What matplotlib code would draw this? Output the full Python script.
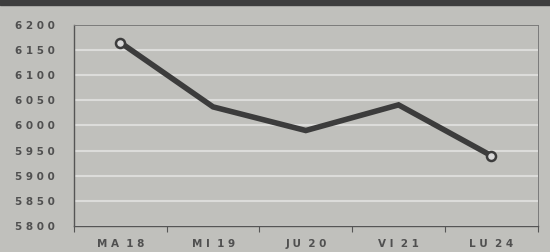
import matplotlib
matplotlib.use('Agg')
import matplotlib.pyplot as plt
import numpy as np
from matplotlib.ticker import FixedLocator, FuncFormatter

days = ['MA 18', 'MI 19', 'JU 20', 'VI 21', 'LU 24']
values = [6165, 6037, 5990, 6041, 5940]
y_ticks = [5800, 5850, 5900, 5950, 6000, 6050, 6100, 6150, 6200]

bg = '#c0c0bc'

fig = plt.figure(figsize=(5.5, 2.52), dpi=100)
fig.patch.set_facecolor(bg)

# dark strip of the page header at the top
fig.add_artist(plt.Rectangle((0, 0.98), 1, 0.03, transform=fig.transFigure,
                             color='#3e3e3e', zorder=0))

ax = fig.add_axes([0.1345, 0.103, 0.843, 0.798])
ax.set_facecolor(bg)

x = np.arange(len(days))
ax.plot(x, values, color='#3c3c3c', lw=4, solid_capstyle='round',
        solid_joinstyle='miter', zorder=3)
ax.plot([x[0], x[-1]], [values[0], values[-1]], 'o', ms=6.5,
        mfc='#d8d8d8', mec='#3c3c3c', mew=1.8, zorder=4)

ax.set_xlim(-0.5, len(days) - 0.5)
ax.set_ylim(5800, 6200)

ax.yaxis.set_major_locator(FixedLocator(y_ticks))
ax.yaxis.set_major_formatter(FuncFormatter(lambda v, p: ' '.join(str(int(v)))))
ax.grid(axis='y', color='#dcdcda', lw=1.5)
ax.set_axisbelow(True)

ax.set_xticks(x)
ax.set_xticklabels([' '.join(d.split(' ')[0]) + '  ' + ' '.join(d.split(' ')[1]) for d in days])
ax.set_xticks(np.arange(-0.5, len(days)), minor=True)
ax.tick_params(axis='x', which='major', length=0, pad=9)
ax.tick_params(axis='x', which='minor', length=4, color='#555555', width=0.8)
ax.tick_params(axis='y', length=0, pad=14)

for lab in ax.get_xticklabels() + ax.get_yticklabels():
    lab.set_fontsize(7.5)
    lab.set_fontweight('bold')
    lab.set_color('#505050')

ax.spines['left'].set_color('#555555')
ax.spines['bottom'].set_color('#555555')
ax.spines['left'].set_linewidth(1.0)
ax.spines['bottom'].set_linewidth(1.0)
ax.spines['top'].set_color('#7a7a7a')
ax.spines['right'].set_color('#7a7a7a')
ax.spines['top'].set_linewidth(0.7)
ax.spines['right'].set_linewidth(0.7)

fig.savefig('out.png', dpi=100, facecolor=bg)
